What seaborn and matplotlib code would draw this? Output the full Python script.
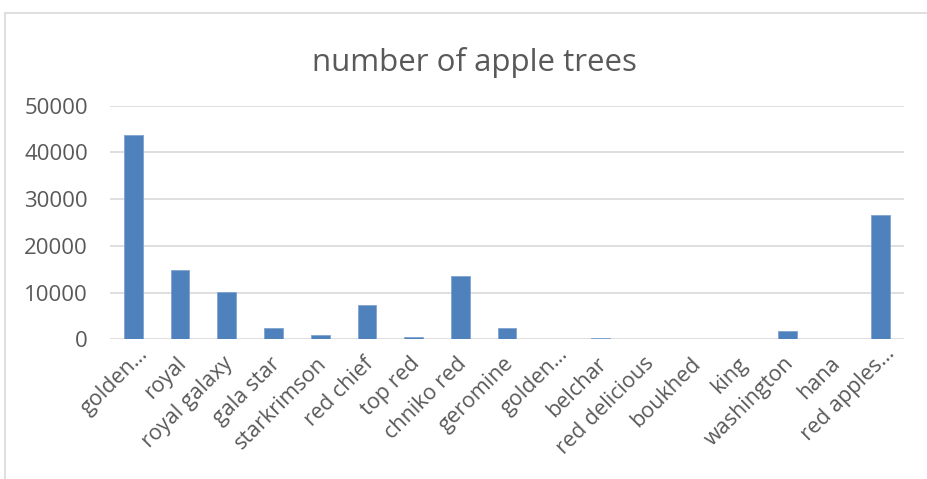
import matplotlib
matplotlib.use("Agg")
import matplotlib.pyplot as plt
import matplotlib.transforms as mtransforms
import seaborn as sns
import pandas as pd
from matplotlib.patches import Rectangle

varieties = ["golden…", "royal", "royal galaxy", "gala star", "starkrimson",
             "red chief", "top red", "chniko red", "geromine", "golden…",
             "belchar", "red delicious", "boukhed", "king", "washington",
             "hana", "red apples…"]
trees = [43700, 14800, 10200, 2350, 930, 7350, 490, 13600, 2350, 50,
         300, 120, 50, 0, 1850, 50, 26600]
y_ticks = [0, 10000, 20000, 30000, 40000, 50000]

sns.set_theme(style="white")
plt.rcParams["font.family"] = ["Open Sans", "DejaVu Sans"]

text_color = "#595959"
grid_color = "#d9d9d9"
bar_color = "#4f81bd"

fig = plt.figure(figsize=(9.28, 4.79), dpi=100)
W, H = 928, 479
ax = fig.add_axes([110 / W, 1 - 339.3 / H, (904 - 110) / W, (339.3 - 105.7) / H])

# chart-area frame
fig.patches.append(Rectangle((5 / W, -0.1), 1.2, 1 - 13 / H + 0.1,
                             transform=fig.transFigure, fill=False,
                             edgecolor=grid_color, linewidth=1.2))

df = pd.DataFrame({"pos": range(len(varieties)), "trees": trees})
sns.barplot(data=df, x="pos", y="trees", color=bar_color, width=0.4,
            saturation=1, edgecolor="#7fa3d0", linewidth=0.6, ax=ax, zorder=3)

ax.set_xlim(-0.5, len(varieties) - 0.5)
ax.set_ylim(0, 50000)
ax.set_yticks(y_ticks)
ax.set_yticklabels([str(v) for v in y_ticks], fontsize=16, color=text_color)
ax.yaxis.grid(True, color=grid_color, linewidth=1.2, zorder=0)
ax.set_axisbelow(True)
for s in ax.spines.values():
    s.set_visible(False)
ax.tick_params(axis="y", length=0, pad=16)
ax.tick_params(axis="x", length=0, pad=10)
ax.set_xticks(range(len(varieties)))
ax.set_xticklabels(varieties, rotation=45, ha="right", va="top",
                   rotation_mode="anchor", fontsize=15.5, color=text_color)
# truncated names sit a little further along the slant
for lbl in ax.get_xticklabels():
    dx, dy = (-4, 0)
    if lbl.get_text().endswith("…"):
        dx, dy = (4, 10)
    shift = mtransforms.ScaledTranslation(dx / 100, dy / 100, fig.dpi_scale_trans)
    lbl.set_transform(lbl.get_transform() + shift)
ax.set_xlabel("")
ax.set_ylabel("")

fig.text(474 / W, 1 - 62 / H, "number of apple trees", ha="center", va="center",
         fontsize=22.5, color=text_color)

fig.savefig("out.png", dpi=100)
